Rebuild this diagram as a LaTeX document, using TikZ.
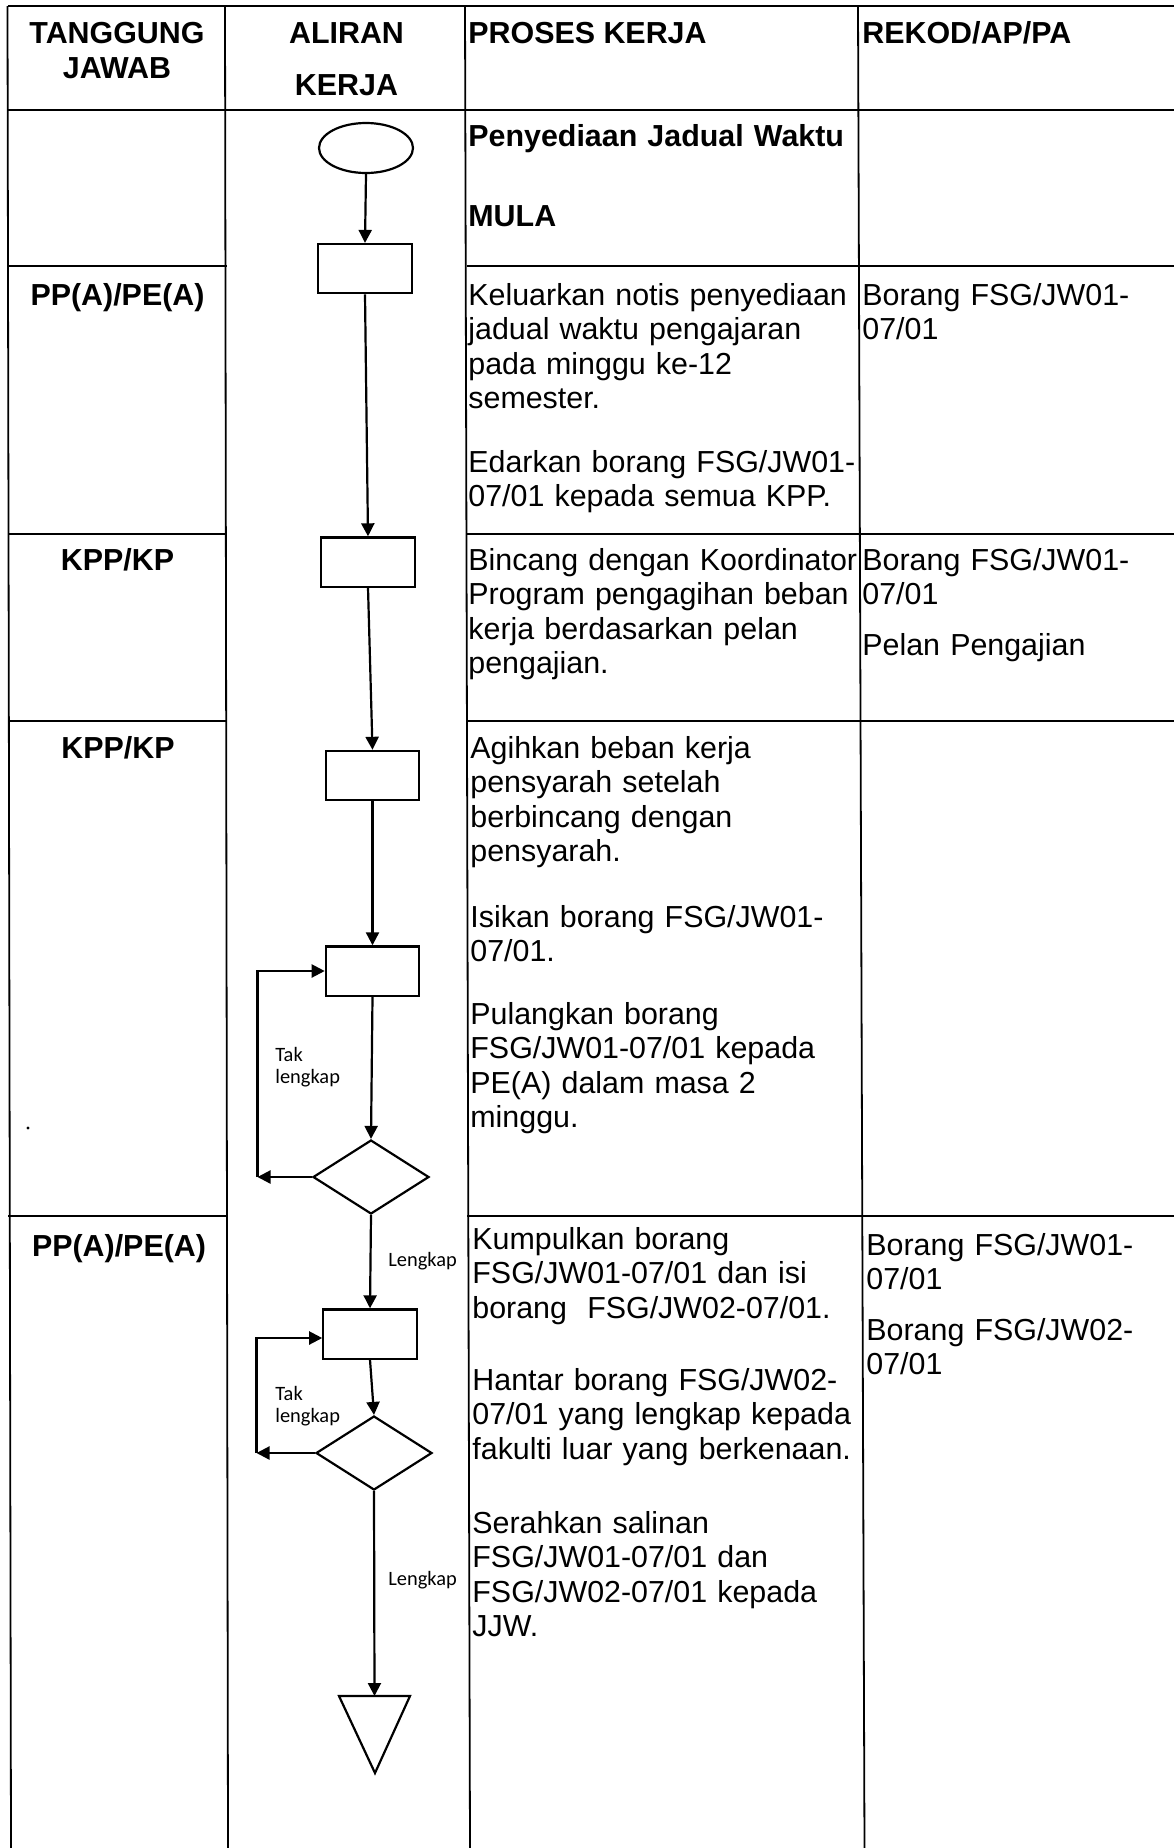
\documentclass[tikz,border=0pt]{standalone}
\usepackage{fontspec}
\setmainfont{Liberation Sans}
\newfontfamily\smallsans{Carlito}
\usetikzlibrary{shapes.geometric,arrows.meta}
\begin{document}
\begin{tikzpicture}[x=0.5pt,y=-0.5pt,
  grid/.style={line width=0.9pt},
  flow/.style={line width=1.1pt,-{Triangle[length=6.5pt,width=6.5pt]}},
  plainline/.style={line width=1.1pt},
  boxnode/.style={draw,line width=1.1pt,rectangle,minimum width=46.7pt,minimum height=24.6pt,inner sep=0pt},
  decnode/.style={draw,line width=1.1pt,diamond,minimum width=58pt,minimum height=37pt,inner sep=0pt},
  startnode/.style={draw,line width=1.1pt,ellipse,minimum width=47pt,minimum height=25pt,inner sep=0pt},
  hd/.style={font=\fontsize{15.2}{17.5}\selectfont\bfseries,inner sep=0pt,anchor=base},
  hdl/.style={font=\fontsize{15.2}{17.5}\selectfont\bfseries,inner sep=0pt,anchor=base west},
  txt/.style={font=\fontsize{15.2}{17.25}\selectfont,inner sep=0pt,anchor=base west,text width=200pt,align=left},
  btxt/.style={font=\fontsize{15.2}{17.25}\selectfont\bfseries,inner sep=0pt,anchor=base west,text width=200pt,align=left},
  smalltxt/.style={font=\smallsans\fontsize{10.2}{11}\selectfont,inner sep=0pt,anchor=base west,text width=40pt,align=left},
]
\useasboundingbox (0,0) rectangle (1174,1848);
\fill[white] (0,0) rectangle (1174,1848);

% ---------------- table grid ----------------
\draw[grid] (7.5,6) -- (1174,6);
\draw[grid] (7.5,110) -- (1174,110);
\foreach \yy in {266,534,721,1216}{
  \draw[grid] (8,\yy) -- (227,\yy);
  \draw[grid] (467,\yy) -- (1174,\yy);
}
\draw[grid] (7.5,6) -- (11,1848);
\draw[grid] (225,6) -- (228,1848);
\draw[grid] (465,6) -- (470,1848);
\draw[grid] (858,6) -- (864.5,1848);

% ---------------- header ----------------
\node[hd] (hTa) at (117,43) {TANGGUNG};
\node[hd] (hTb) at (117,78) {JAWAB};
\node[hd] (hAa) at (346.5,43) {ALIRAN};
\node[hd] (hAb) at (346.5,95) {KERJA};
\node[hdl] (hP) at (468,43) {PROSES KERJA};
\node[hdl] (hR) at (862,43) {REKOD/AP/PA};

% ---------------- row 1 ----------------
\node[btxt] (p1a) at (468,146.7) {Penyediaan Jadual Waktu};
\node[btxt] (p1b) at (468,226.7) {MULA};

% ---------------- row 2 ----------------
\node[hd] (r2) at (117.5,305) {PP(A)/PE(A)};
\node[txt] (p2a) at (468,305) {Keluarkan notis penyediaan\\jadual waktu pengajaran\\pada minggu ke-12\\semester.};
\node[txt] (p2b) at (468,472) {Edarkan borang FSG/JW01-\\07/01 kepada semua KPP.};
\node[txt] (k2) at (862,305) {Borang FSG/JW01-\\07/01};

% ---------------- row 3 ----------------
\node[hd] (r3) at (117.5,570) {KPP/KP};
\node[txt] (p3) at (468,570) {Bincang dengan Koordinator\\Program pengagihan beban\\kerja berdasarkan pelan\\pengajian.};
\node[txt] (k3a) at (862,570) {Borang FSG/JW01-\\07/01};
\node[txt] (k3b) at (862,655) {Pelan Pengajian};

% ---------------- row 4 ----------------
\node[hd] (r4) at (118,758) {KPP/KP};
\node[txt] (p4a) at (470,758) {Agihkan beban kerja\\pensyarah setelah\\berbincang dengan\\pensyarah.};
\node[txt] (p4b) at (470,927) {Isikan borang FSG/JW01-\\07/01.};
\node[txt] (p4c) at (470,1024) {Pulangkan borang\\FSG/JW01-07/01 kepada\\PE(A) dalam masa 2\\minggu.};
\fill (28,1128) circle (1.6);

% ---------------- row 5 ----------------
\node[hd] (r5) at (119,1256) {PP(A)/PE(A)};
\node[txt] (p5a) at (472,1249) {Kumpulkan borang\\FSG/JW01-07/01 dan isi\\borang\ \ FSG/JW02-07/01.};
\node[txt] (p5b) at (472,1390) {Hantar borang FSG/JW02-\\07/01 yang lengkap kepada\\fakulti luar yang berkenaan.};
\node[txt] (p5c) at (472,1533) {Serahkan salinan\\FSG/JW01-07/01 dan\\FSG/JW02-07/01 kepada\\JJW.};
\node[txt] (k5a) at (866,1255) {Borang FSG/JW01-\\07/01};
\node[txt] (k5b) at (866,1340) {Borang FSG/JW02-\\07/01};

% ---------------- flow chart ----------------
\node[startnode] (start) at (366,148) {};
\node[boxnode] (b1) at (365,268.6) {};
\node[boxnode] (b2) at (368,562) {};
\node[boxnode] (b3) at (372.5,775.5) {};
\node[boxnode] (b4) at (372.5,971) {};
\node[decnode] (d1) at (371,1177) {};
\node[boxnode] (b5) at (370,1334) {};
\node[decnode] (d2) at (374,1453) {};
\coordinate (tritop) at (374.5,1696);
\draw[plainline] (339,1696) -- (410,1696) -- (375,1773) -- cycle;

\draw[flow] (start.south) -- (b1.north);
\draw[flow] (b1.south) -- (b2.north);
\draw[flow] (b2.south) -- (b3.north);
\draw[flow] (b3.south) -- (b4.north);
\draw[flow] (b4.south) -- (d1.north);
\draw[flow] (d1.south) -- (b5.north);
\draw[flow] (b5.south) -- (d2.north);
\draw[flow] (d2.south) -- (tritop);

% loop 1
\coordinate (L1) at (257.5,1177);
\coordinate (L1top) at (257.5,971);
\draw[flow] (d1.west) -- (L1);
\draw[flow] (L1) -- (L1top) -- (b4.west);
% loop 2
\coordinate (L2) at (256.5,1453);
\coordinate (L2top) at (256.5,1338);
\draw[flow] (d2.west) -- (L2);
\draw[flow] (L2) -- (L2top) -- (L2top -| b5.west);

% labels
\node[smalltxt] (tl1) at (275,1061) {Tak\\lengkap};
\node[smalltxt] (lk1) at (388,1266) {Lengkap};
\node[smalltxt] (tl2) at (275,1400) {Tak\\lengkap};
\node[smalltxt] (lk2) at (388,1585) {Lengkap};
\end{tikzpicture}
\end{document}
